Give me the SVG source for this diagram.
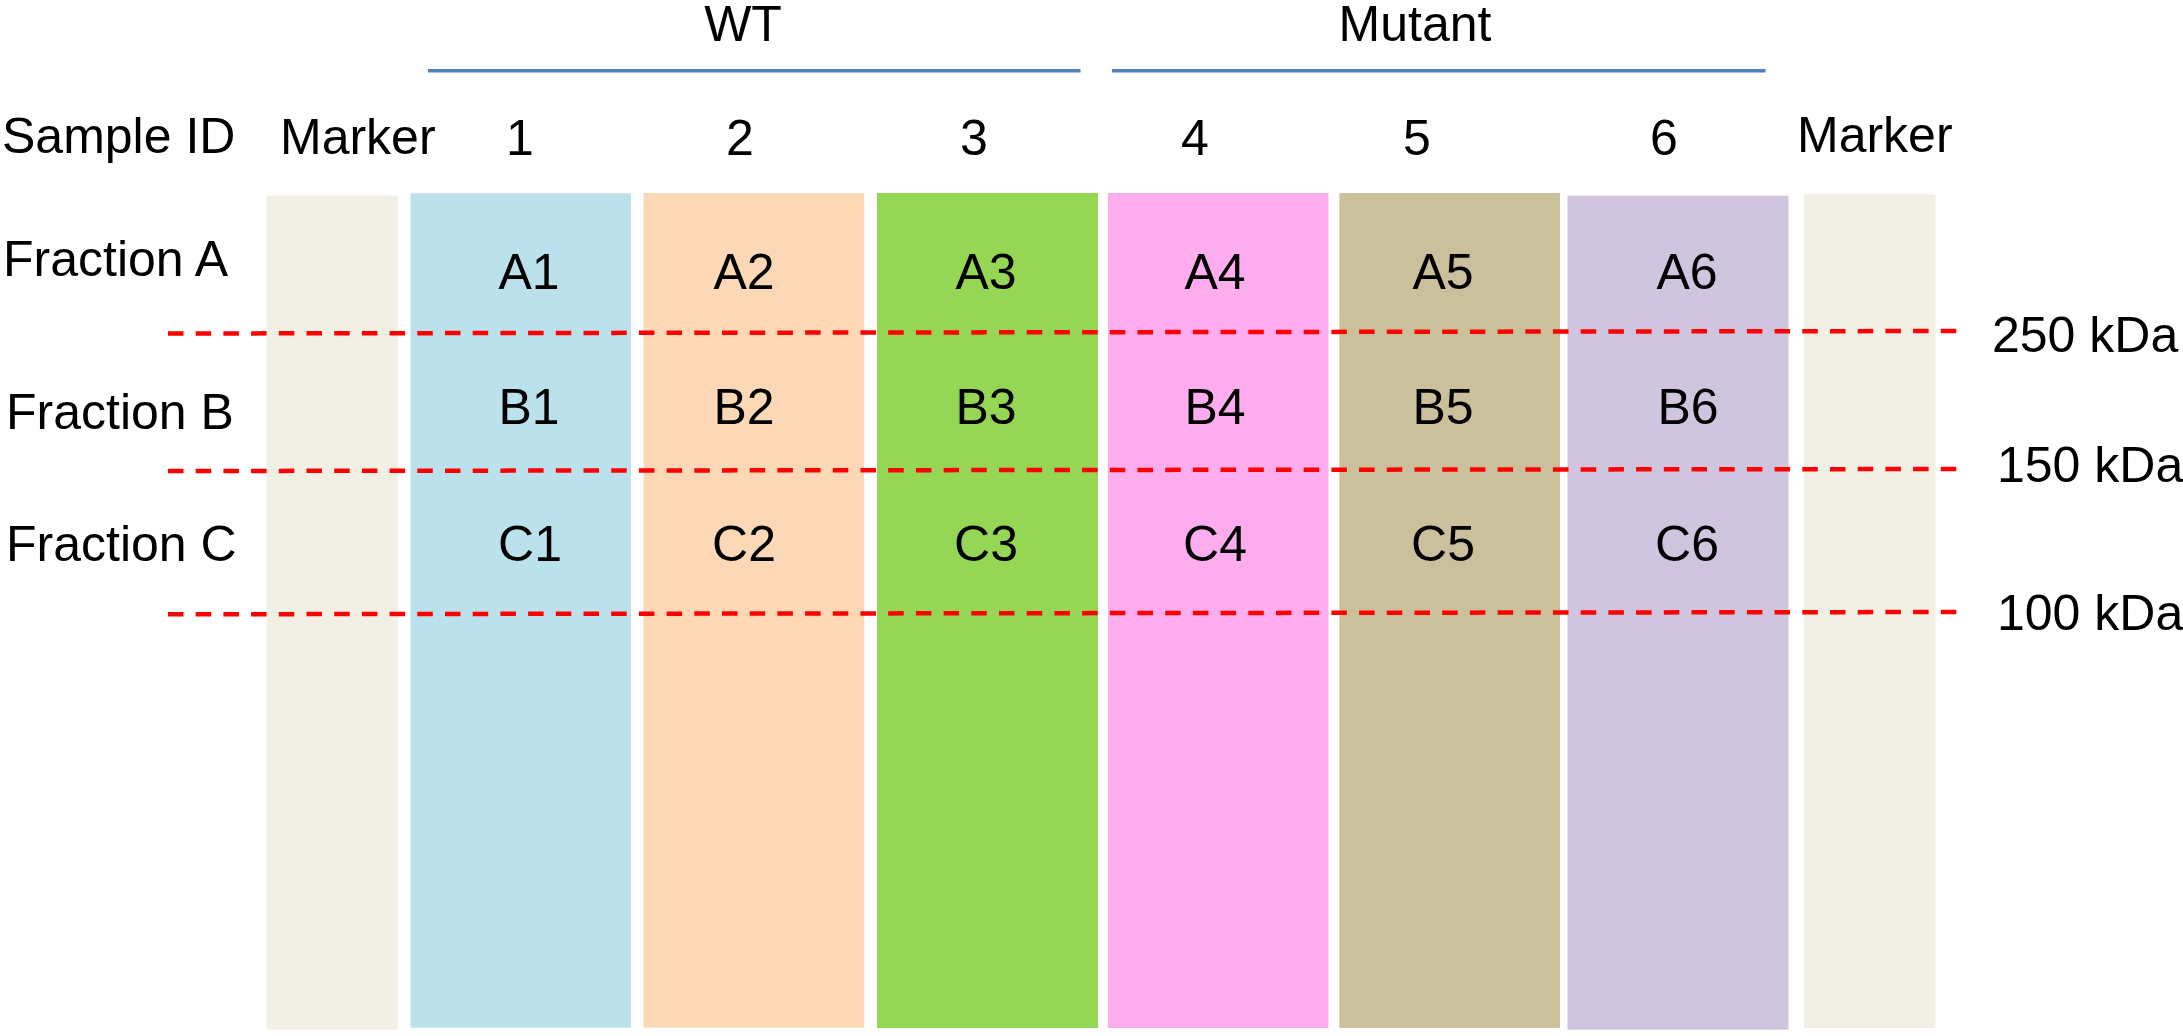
<svg xmlns="http://www.w3.org/2000/svg" width="2183" height="1036" viewBox="0 0 2183 1036">
<style>
text{font-family:"Liberation Sans",Arial,sans-serif;font-size:50px;fill:#000}
.c{text-anchor:middle}
.dash{stroke:#FF0000;stroke-width:4.5;stroke-dasharray:15.5 12.2;fill:none}
.grp{stroke:#4F81BD;stroke-width:3.5;fill:none}
</style>
<rect width="2183" height="1036" fill="#FFFFFF"/>
<g id="headers">
<text class="c" x="743" y="41">WT</text>
<text class="c" x="1415" y="41">Mutant</text>
<text x="2" y="153">Sample ID</text>
<text x="280" y="154">Marker</text>
<text class="c" x="520" y="155">1</text>
<text class="c" x="740" y="155">2</text>
<text class="c" x="974" y="155">3</text>
<text class="c" x="1195" y="155">4</text>
<text class="c" x="1417" y="155">5</text>
<text class="c" x="1664" y="155">6</text>
<text x="1797" y="152">Marker</text>
<text x="3" y="276">Fraction A</text>
<text x="6" y="429">Fraction B</text>
<text x="6" y="561">Fraction C</text>
</g>
<g id="group-lines">
<line class="grp" x1="428" y1="70.7" x2="1080.5" y2="70.7"/>
<line class="grp" x1="1112" y1="70.7" x2="1765.5" y2="70.7"/>
</g>
<g id="lane-marker-left"><rect x="266.5" y="195.7" width="131.3" height="834" fill="#F2EFE5"/></g>
<g id="lane-1"><rect x="410.5" y="193.3" width="220.5" height="834.4" fill="#BBE2EC"/>
<text class="c" x="529" y="289">A1</text><text class="c" x="529" y="424">B1</text><text class="c" x="530" y="561">C1</text></g>
<g id="lane-2"><rect x="643.5" y="193" width="220.5" height="834.7" fill="#FDD8B6"/>
<text class="c" x="744" y="289">A2</text><text class="c" x="744" y="424">B2</text><text class="c" x="744" y="561">C2</text></g>
<g id="lane-3"><rect x="877" y="193" width="221" height="835" fill="#95D654"/>
<text class="c" x="986" y="289">A3</text><text class="c" x="986" y="424">B3</text><text class="c" x="986" y="561">C3</text></g>
<g id="lane-4"><rect x="1108" y="193" width="220.5" height="835" fill="#FDADEE"/>
<text class="c" x="1215" y="289">A4</text><text class="c" x="1215" y="424">B4</text><text class="c" x="1215" y="561">C4</text></g>
<g id="lane-5"><rect x="1339.4" y="193" width="220.6" height="835" fill="#CAC09C"/>
<text class="c" x="1443" y="289">A5</text><text class="c" x="1443" y="424">B5</text><text class="c" x="1443" y="561">C5</text></g>
<g id="lane-6"><rect x="1567.5" y="195.7" width="221" height="834" fill="#CFC5DF"/>
<text class="c" x="1687" y="289">A6</text><text class="c" x="1688" y="424">B6</text><text class="c" x="1687" y="561">C6</text></g>
<g id="lane-marker-right"><rect x="1804" y="194" width="131.5" height="834" fill="#F2EFE5"/></g>
<g id="connectors">
<line class="dash" x1="168" y1="333.5" x2="1959" y2="331"/>
<line class="dash" x1="168" y1="471" x2="1959" y2="469"/>
<line class="dash" x1="168" y1="614.3" x2="1959" y2="612"/>
</g>
<g id="kda-labels">
<text x="1992" y="352">250 kDa</text>
<text x="1997" y="482">150 kDa</text>
<text x="1997" y="630">100 kDa</text>
</g>
</svg>
